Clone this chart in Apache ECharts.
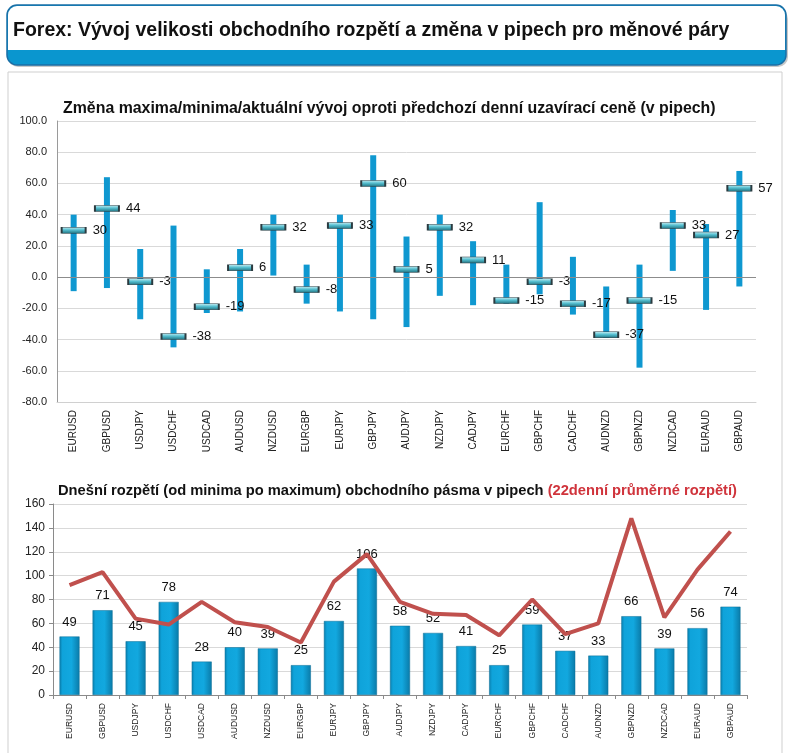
<!DOCTYPE html>
<html><head><meta charset="utf-8">
<script src="https://cdn.jsdelivr.net/npm/echarts@6/dist/echarts.min.js"></script>
<style>html,body{margin:0;padding:0;background:#fff}#c{width:797px;height:753px}</style>
</head><body><div id="c"></div>
<script>
const pairs = ['EURUSD','GBPUSD','USDJPY','USDCHF','USDCAD','AUDUSD','NZDUSD','EURGBP','EURJPY','GBPJPY','AUDJPY','NZDJPY','CADJPY','EURCHF','GBPCHF','CADCHF','AUDNZD','GBPNZD','NZDCAD','EURAUD','GBPAUD'];
const highs   = [40, 64, 18, 33, 5, 18, 40, 8, 40, 78, 26, 40, 23, 8, 48, 13, -6, 8, 43, 34, 68];
const lows    = [-9, -7, -27, -45, -23, -22, 1, -17, -22, -27, -32, -12, -18, -17, -11, -24, -39, -58, 4, -21, -6];
const current = [30, 44, -3, -38, -19, 6, 32, -8, 33, 60, 5, 32, 11, -15, -3, -17, -37, -15, 33, 27, 57];
const todayRange = [49, 71, 45, 78, 28, 40, 39, 25, 62, 106, 58, 52, 41, 25, 59, 37, 33, 66, 39, 56, 74];
const avgRange22 = [92, 103, 64, 59, 78, 61, 57, 44, 95, 118, 78, 68, 67, 50, 80, 51, 60, 148, 65, 105, 137];
const topTicks = { min: -80, max: 100, interval: 20 };
const botTicks = { min: 0, max: 160, interval: 20 };

const chart = echarts.init(document.getElementById('c'));
const F = 'Liberation Sans, Arial, sans-serif';
const rangeData = pairs.map((p, i) => [i, lows[i], highs[i]]);

chart.setOption({
  animation: false,
  textStyle: { fontFamily: F },
  graphic: [
    { type: 'rect', z: 0, shape: { x: 8, y: 9, width: 780, height: 58, r: 10 }, style: { fill: '#c8c8c8' } },
    { type: 'rect', z: 1, shape: { x: 7, y: 5, width: 779, height: 60, r: 10 }, style: { fill: '#0a96cf', stroke: '#1a6fa6', lineWidth: 1.5 } },
    { type: 'rect', z: 2, shape: { x: 8, y: 6, width: 777, height: 44, r: [9, 9, 0, 0] }, style: { fill: '#ffffff' } },
    { type: 'text', z: 3, left: 13, top: 21, style: { text: 'Forex: Vývoj velikosti obchodního rozpětí a změna v pipech pro měnové páry', font: 'bold 19.5px ' + F, fill: '#111' } },
    { type: 'rect', z: 0, shape: { x: 8, y: 72, width: 774, height: 700 }, style: { fill: '#fff', stroke: '#cfcfcf', lineWidth: 1 } },
    { type: 'text', z: 3, left: 63, top: 101, style: { text: 'Změna maxima/minima/aktuální vývoj oproti předchozí denní uzavírací ceně (v pipech)', font: 'bold 15.9px ' + F, fill: '#111' } },
    { type: 'text', z: 3, left: 58, top: 483, style: {
        text: '{a|Dnešní rozpětí (od minima po maximum) obchodního pásma v pipech }{b|(22denní průměrné rozpětí)}',
        rich: { a: { font: 'bold 14.7px ' + F, fill: '#111' }, b: { font: 'bold 14.7px ' + F, fill: '#d0343c' } } } }
  ],
  grid: [
    { left: 57, top: 121, right: 41, bottom: 351 },
    { left: 53, top: 504, right: 50, bottom: 58 }
  ],
  xAxis: [
    { type: 'category', gridIndex: 0, data: pairs,
      axisLine: { onZero: false, lineStyle: { color: '#d0d0d0' } }, axisTick: { show: false },
      axisLabel: { rotate: 90, fontSize: 10, color: '#222', margin: 8, interval: 0 } },
    { type: 'category', gridIndex: 1, data: pairs,
      axisLine: { lineStyle: { color: '#8a8a8a' } }, axisTick: { show: true, lineStyle: { color: '#8a8a8a' }, length: 4 },
      axisLabel: { rotate: 90, fontSize: 8.5, color: '#222', margin: 8, interval: 0 } }
  ],
  yAxis: [
    { type: 'value', gridIndex: 0, min: topTicks.min, max: topTicks.max, interval: topTicks.interval,
      axisLine: { show: true, lineStyle: { color: '#9a9a9a' } }, axisTick: { show: false },
      splitLine: { lineStyle: { color: '#d9d9d9' } },
      axisLabel: { fontSize: 11, color: '#222', margin: 10, formatter: v => v.toFixed(1) } },
    { type: 'value', gridIndex: 1, min: botTicks.min, max: botTicks.max, interval: botTicks.interval,
      axisLine: { show: true, lineStyle: { color: '#8a8a8a' } }, axisTick: { show: true, length: 4, lineStyle: { color: '#8a8a8a' } },
      splitLine: { lineStyle: { color: '#d9d9d9' } },
      axisLabel: { fontSize: 12, color: '#222', margin: 8 } }
  ],
  series: [
    { type: 'custom', xAxisIndex: 0, yAxisIndex: 0, z: 2, data: rangeData,
      renderItem: function (params, api) {
        const lo = api.coord([api.value(0), api.value(1)]);
        const hi = api.coord([api.value(0), api.value(2)]);
        return { type: 'rect', shape: { x: lo[0] - 3, y: hi[1], width: 6, height: lo[1] - hi[1] }, style: { fill: '#0f98d0' } };
      },
      markLine: { silent: true, symbol: 'none', label: { show: false }, lineStyle: { color: '#8c8c8c', type: 'solid', width: 1 }, data: [{ yAxis: 0 }] }
    },
    { type: 'scatter', xAxisIndex: 0, yAxisIndex: 0, z: 4, data: current,
      symbol: 'rect', symbolSize: [24, 6],
      itemStyle: { opacity: 1, borderColor: '#2b3b40', borderWidth: 1,
        color: new echarts.graphic.LinearGradient(0, 0, 0, 1, [
          { offset: 0, color: '#c9eef3' }, { offset: 0.45, color: '#55bfd0' }, { offset: 1, color: '#1f6f7d' }]) },
      label: { show: true, position: 'right', distance: 6, fontSize: 13, color: '#111', formatter: p => p.value } },
    { type: 'bar', xAxisIndex: 1, yAxisIndex: 1, z: 2, data: todayRange, barWidth: 20,
      itemStyle: {
        color: new echarts.graphic.LinearGradient(0, 0, 1, 0, [
          { offset: 0, color: '#0a7fae' }, { offset: 0.15, color: '#0fa3da' }, { offset: 0.6, color: '#12a8df' }, { offset: 1, color: '#0a7aa8' }]),
        borderColor: '#0b6d95', borderWidth: 0.5 },
      label: { show: true, position: 'top', distance: 8, fontSize: 13, color: '#111' } },
    { type: 'line', xAxisIndex: 1, yAxisIndex: 1, z: 5, data: avgRange22, symbol: 'none',
      lineStyle: { color: '#c0504d', width: 4 } }
  ]
});
</script></body></html>
